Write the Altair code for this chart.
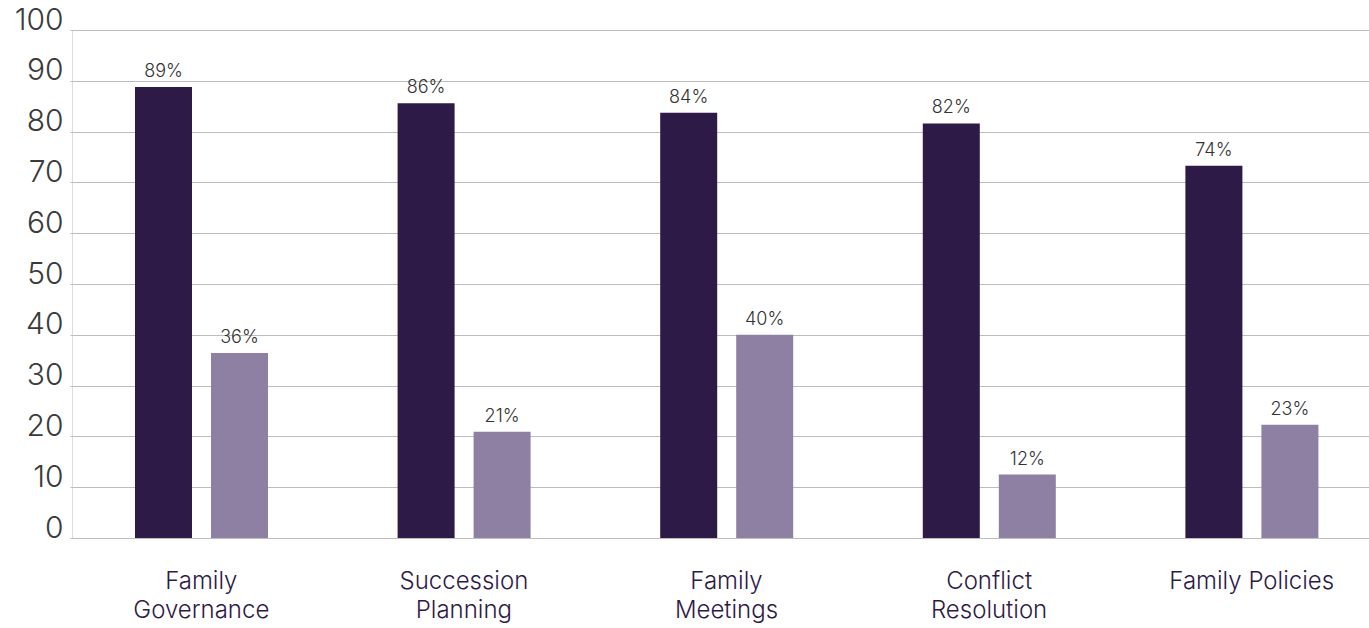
import altair as alt
import pandas as pd

categories = ["Family Governance", "Succession Planning", "Family Meetings",
              "Conflict Resolution", "Family Policies"]
series_names = ["Series 1", "Series 2"]
# bar heights
series1 = [88.8, 85.6, 83.7, 81.6, 73.3]
series2 = [36.4, 20.9, 40.0, 12.5, 22.3]
# value labels as printed
series1_labels = ["89%", "86%", "84%", "82%", "74%"]
series2_labels = ["36%", "21%", "40%", "12%", "23%"]
y_ticks = [0, 10, 20, 30, 40, 50, 60, 70, 80, 90, 100]

FONT = "Inter"

rows = []
for c, a, b, la, lb in zip(categories, series1, series2, series1_labels, series2_labels):
    rows.append({"category": c, "series": series_names[0], "value": a, "lab": la})
    rows.append({"category": c, "series": series_names[1], "value": b, "lab": lb})
df = pd.DataFrame(rows)

x_scale = alt.Scale(range=[-2, 1311], paddingInner=0, paddingOuter=0)
x_enc = alt.X("category:N", sort=categories, title=None, scale=x_scale,
              axis=alt.Axis(labelAngle=0, domain=False, ticks=False,
                            labelFont=FONT, labelFontSize=24, labelFontWeight=300,
                            labelColor="#2e1a47", labelPadding=31,
                            labelBaseline="top", labelLineHeight=29,
                            labelExpr="datum.label == 'Family Policies' ? datum.label : split(datum.label, ' ')"))
xoff = alt.XOffset("series:N", sort=series_names,
                   scale=alt.Scale(range=[65, 198], paddingInner=0.25, paddingOuter=0))
y_scale = alt.Scale(domain=[0, 100], nice=False)
y_enc = alt.Y("value:Q", title=None, scale=y_scale,
              axis=alt.Axis(values=y_ticks, domain=False, ticks=False,
                            gridColor="#bdbdbd", gridWidth=1.2,
                            labelFont=FONT, labelFontSize=30, labelFontWeight=300,
                            labelColor="#3a3a3a", labelPadding=9,
                            labelBaseline="alphabetic", labelOffset=-1))

bars = alt.Chart(df).mark_bar().encode(
    x=x_enc, xOffset=xoff, y=y_enc,
    color=alt.Color("series:N", sort=series_names, legend=None,
                    scale=alt.Scale(domain=series_names, range=["#2e1a47", "#8d80a3"]))
)

labels = alt.Chart(df).mark_text(font=FONT, fontSize=18, fontWeight=300, color="#333333",
                                 baseline="alphabetic", dy=-10).encode(
    x=alt.X("category:N", sort=categories, scale=x_scale),
    xOffset=xoff,
    y=alt.Y("value:Q", scale=y_scale),
    text="lab:N"
)

chart = alt.layer(bars, labels).properties(
    width=1297, height=508,
    autosize=alt.AutoSizeParams(type="none"),
    padding={"left": 72, "top": 30, "right": 0, "bottom": 90}
).configure_view(stroke=None).configure(background="white")

chart.save("out.html", embed_options={"renderer": "svg", "actions": False})
